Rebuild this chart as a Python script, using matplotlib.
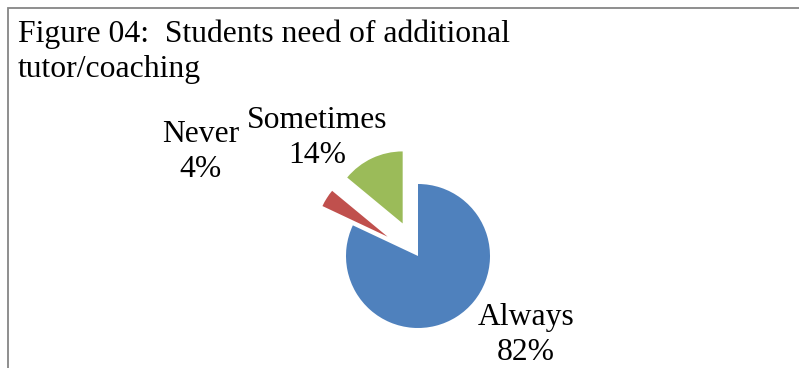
import matplotlib
matplotlib.use("Agg")
import matplotlib.pyplot as plt
from matplotlib.patches import Rectangle

# data
categories = ["Always", "Never", "Sometimes"]
shares = [82, 4, 14]
colors = ["#4F81BD", "#C0504D", "#9BBB59"]
explode = [0, 0.5, 0.5]
title_lines = ["Figure 04:  Students need of additional", "tutor/coaching"]

W, H = 799, 368
plt.rcParams['font.family'] = ['Liberation Serif', 'DejaVu Serif']

fig = plt.figure(figsize=(W / 100, H / 100), dpi=100)

def fx(px):
    return px / W

def fy(py):
    return 1 - py / H

# pie centre / radius in pixels
cx, cy, r = 418, 256, 72
ax = fig.add_axes([0, 0, 1, 1])
ax.pie(shares, colors=colors, explode=explode, startangle=90,
       counterclock=False, radius=1, wedgeprops=dict(linewidth=0))
ax.set_aspect('auto')
ax.set_xlim(-cx / r, (W - cx) / r)
ax.set_ylim(-(H - cy) / r, cy / r)
ax.axis('off')

# chart border (right and bottom edges fall outside the picture)
fig.patches.append(Rectangle((fx(7.5), fy(H + 20)), fx(W + 20), fy(7.5) - fy(H + 20),
                             transform=fig.transFigure, fill=False,
                             edgecolor="#868686", linewidth=1.3))

fs = 22.8
for i, line in enumerate(title_lines):
    fig.text(fx(18), fy(42 + 35 * i), line, fontsize=fs, ha='left', va='baseline')

label_pos = [(526, 325), (201, 142), (317, 128)]
for name, val, (lx, ly) in zip(categories, shares, label_pos):
    fig.text(fx(lx), fy(ly), name, fontsize=fs, ha='center', va='baseline')
    fig.text(fx(lx), fy(ly + 35), f"{val}%", fontsize=fs, ha='center', va='baseline')

fig.savefig("out.png", dpi=100)
